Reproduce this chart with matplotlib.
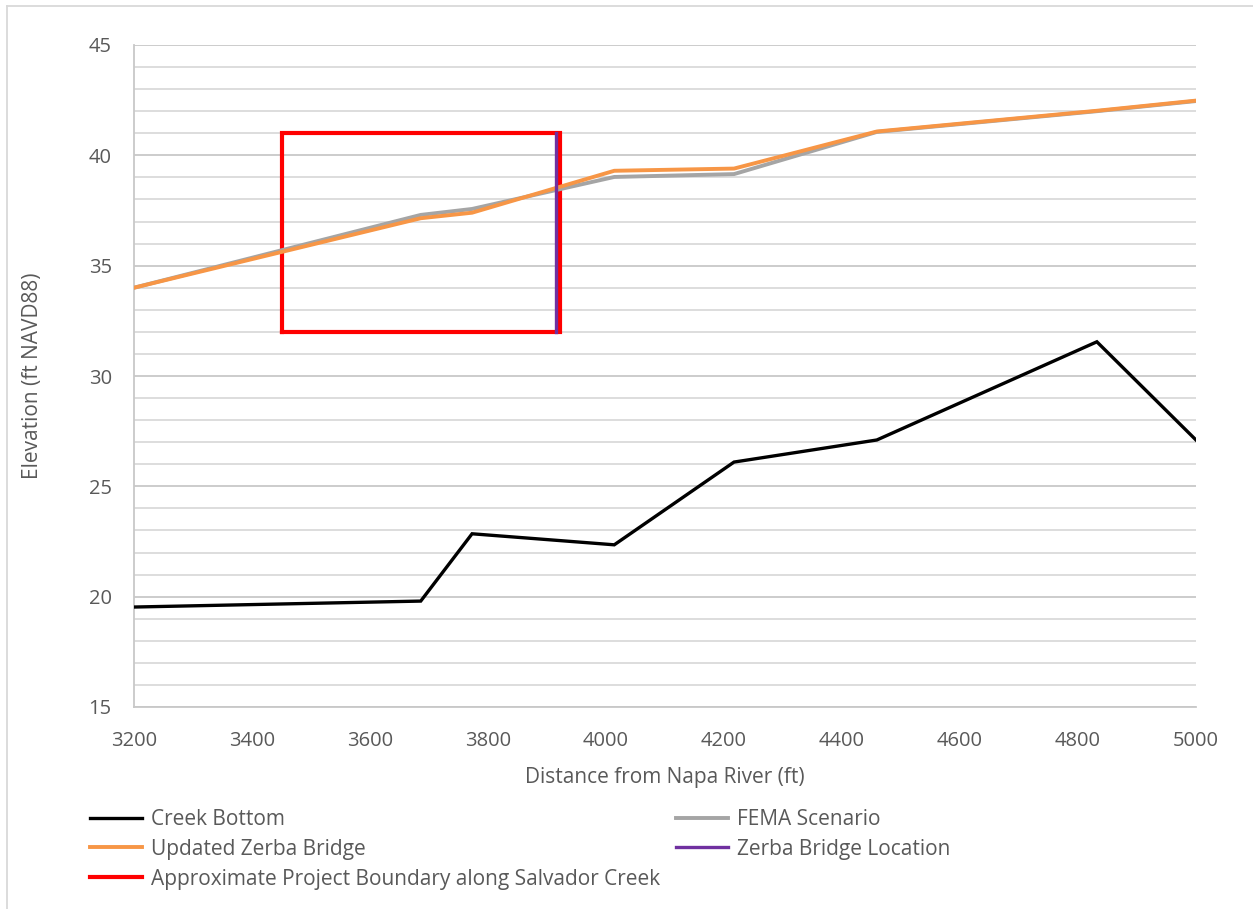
import matplotlib
matplotlib.use("Agg")
import matplotlib.pyplot as plt
from matplotlib.lines import Line2D
from matplotlib.ticker import MultipleLocator

plt.rcParams['font.family'] = ['Open Sans', 'DejaVu Sans']

# Data
distance = [3200, 3686, 3773, 4014, 4217, 4459, 4832, 5000]
creek_bottom = [19.53, 19.8, 22.85, 22.35, 26.1, 27.1, 31.55, 27.1]
fema = [34.0, 37.3, 37.57, 39.02, 39.15, 41.06, 42.0, 42.46]
updated_zerba = [34.0, 37.15, 37.4, 39.3, 39.4, 41.08, 42.02, 42.48]
bridge_x = [3916, 3916]
bridge_y = [32, 41]
boundary_x = [3450, 3450, 3922, 3922, 3450]
boundary_y = [32, 41, 41, 32, 32]

xticks = [3200, 3400, 3600, 3800, 4000, 4200, 4400, 4600, 4800, 5000]
yticks = [15, 20, 25, 30, 35, 40, 45]

text_color = '#595959'

fig = plt.figure(figsize=(12.53, 9.09), dpi=100)
ax = fig.add_axes([134/1253, 1-707/909, (1196-134)/1253, (707-45)/909])

ax.plot(distance, creek_bottom, color='black', lw=2.4, label='Creek Bottom', zorder=3, solid_joinstyle='miter')
ax.plot(distance, fema, color='#a5a5a5', lw=2.8, label='FEMA Scenario', zorder=3)
ax.plot(distance, updated_zerba, color='#f79646', lw=2.8, label='Updated Zerba Bridge', zorder=3)
ax.plot(bridge_x, bridge_y, color='#7030a0', lw=2.4, label='Zerba Bridge Location', zorder=3)
ax.plot(boundary_x, boundary_y, color='#ff0000', lw=3.0, label='Approximate Project Boundary along Salvador Creek',
        zorder=2.9, solid_joinstyle='miter')

ax.set_xlim(3200, 5000)
ax.set_ylim(15, 45)
ax.set_xticks(xticks)
ax.set_yticks(yticks)
ax.yaxis.set_minor_locator(MultipleLocator(1))
ax.grid(which='major', axis='y', color='#c8c8c8', lw=1.3, zorder=0)
ax.grid(which='minor', axis='y', color='#dadada', lw=1.3, zorder=0)
ax.grid(False, axis='x')
ax.tick_params(which='both', length=0, labelsize=14.5, colors=text_color)
ax.tick_params(axis='x', pad=17.5)
ax.tick_params(axis='y', pad=16)
for s in ['top', 'right']:
    ax.spines[s].set_visible(False)
for s in ['left', 'bottom']:
    ax.spines[s].set_color('#c8c8c8')
    ax.spines[s].set_linewidth(1.3)

ax.set_xlabel('Distance from Napa River (ft)', fontsize=15, color=text_color, labelpad=11)
ax.set_ylabel('Elevation (ft NAVD88)', fontsize=15, color=text_color, labelpad=33)

handles, labels = ax.get_legend_handles_labels()
col1 = [0, 2, 4]
col2 = [1, 3]
common = dict(frameon=False, fontsize=15, labelcolor=text_color, handlelength=2.5,
              handletextpad=0.45, labelspacing=0.42, borderpad=0, borderaxespad=0)
fig.legend([handles[i] for i in col1], [labels[i] for i in col1], loc='upper left',
           bbox_to_anchor=(90/1253, 1-809/909), **common)
fig.legend([handles[i] for i in col2], [labels[i] for i in col2], loc='upper left',
           bbox_to_anchor=(676/1253, 1-809/909), **common)

# outer chart border (left & top)
fig.add_artist(Line2D([7/1253, 7/1253], [0, 1-6/909], transform=fig.transFigure, color='#d9d9d9', lw=1.3))
fig.add_artist(Line2D([7/1253, 1], [1-6/909, 1-6/909], transform=fig.transFigure, color='#d9d9d9', lw=1.3))

fig.savefig('out.png', dpi=100)
